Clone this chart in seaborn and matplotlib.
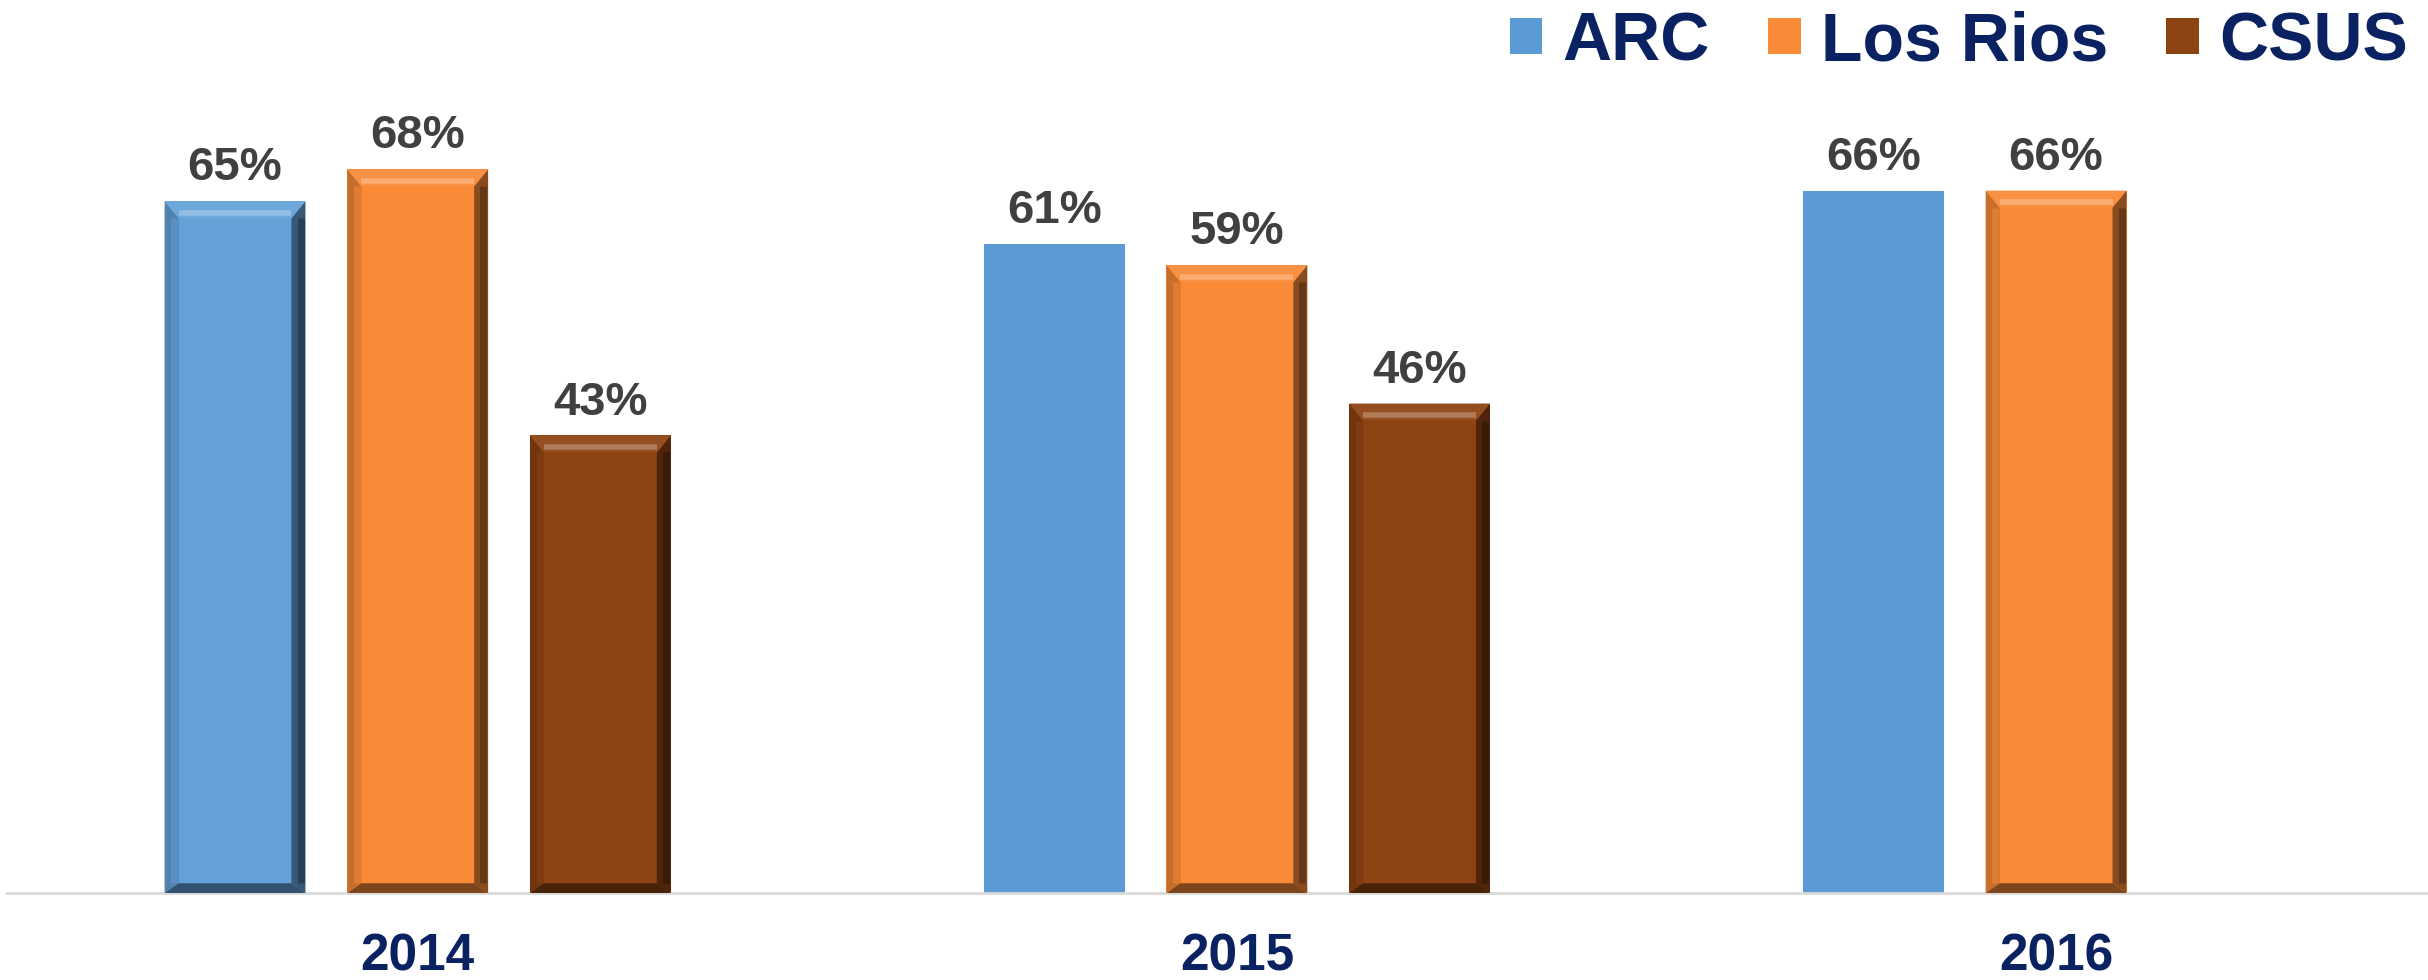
import pandas as pd
import numpy as np
import seaborn as sns
import matplotlib.pyplot as plt
from matplotlib.patches import Polygon, Patch
import matplotlib.colors as mcolors

# Data
years = ["2014", "2015", "2016"]
schools = ["ARC", "Los Rios", "CSUS"]
arc = [65, 61, 66]
los_rios = [68, 59, 66]
csus = [43, 46, None]

colors = {"ARC": "#5B9BD5", "Los Rios": "#F98A38", "CSUS": "#8E4312"}
navy = "#0B2262"

rows = []
for name, vals in zip(schools, [arc, los_rios, csus]):
    for yr, v in zip(years, vals):
        if v is not None:
            rows.append({"Year": yr, "School": name, "Value": v})
df = pd.DataFrame(rows)

sns.set_style("white")
plt.rcParams['font.family'] = ['Liberation Sans', 'DejaVu Sans']

fig = plt.figure(figsize=(24.28, 9.8), dpi=100)
ax = fig.add_axes([0.003, 0.0885, 0.997, 0.9115])

sns.barplot(data=df, x="Year", y="Value", hue="School", order=years, hue_order=schools,
            palette=colors, width=0.669, gap=0.229, saturation=1, ax=ax, legend=False,
            edgecolor="none", linewidth=0)

ax.set_xlim(-0.501, 2.454)
ax.set_ylim(0, 83.9)


def shade(c, f):
    # f > 0 lightens, f < 0 darkens
    r, g, b = mcolors.to_rgb(c)
    if f >= 0:
        return (r + (1 - r) * f, g + (1 - g) * f, b + (1 - b) * f)
    return (r * (1 + f), g * (1 + f), b * (1 + f))


# pixel -> data conversions for bevel size
px_x = (ax.get_xlim()[1] - ax.get_xlim()[0]) / (fig.bbox.width * 0.997)
px_y = (ax.get_ylim()[1] - ax.get_ylim()[0]) / (fig.bbox.height * 0.9115)

# Bevel on every bar except the flat ARC bars of 2015/2016, plus value labels
for container, name in zip(ax.containers, schools):
    for i, bar in enumerate(container):
        h = bar.get_height()
        if np.isnan(h) or h == 0:
            continue
        x0, w = bar.get_x(), bar.get_width()
        x1 = x0 + w
        ax.annotate(f"{int(h)}%", (x0 + w / 2, h), xytext=(0, 15), textcoords="offset points",
                    ha="center", va="baseline", fontsize=34, fontweight="bold", color="#404040")
        if name == "ARC" and i > 0:
            continue
        c = colors[name]
        if name == "ARC":
            c = shade(c, 0.06)
            bar.set_facecolor(c)
        bx, by_t, by_b = 14 * px_x, 17 * px_y, 10 * px_y
        top = [(x0, h), (x1, h), (x1 - bx, h - by_t), (x0 + bx, h - by_t)]
        bottom = [(x0, 0), (x1, 0), (x1 - bx, by_b), (x0 + bx, by_b)]
        left = [(x0, 0), (x0, h), (x0 + bx, h - by_t), (x0 + bx, by_b)]
        right = [(x1, 0), (x1, h), (x1 - bx, h - by_t), (x1 - bx, by_b)]
        for poly, f in [(left, -0.2), (right, -0.45), (bottom, -0.5), (top, 0.06)]:
            ax.add_patch(Polygon(poly, closed=True, facecolor=shade(c, f), edgecolor="none", zorder=3))
        # soft inner edges for a rounder look
        ax.plot([x0 + bx * 0.7, x0 + bx * 0.7], [by_b, h - by_t], color=shade(c, -0.1), lw=5, zorder=4, solid_capstyle="butt")
        ax.plot([x1 - bx * 0.35, x1 - bx * 0.35], [by_b, h - by_t], color=shade(c, -0.6), lw=5, zorder=4, solid_capstyle="butt")
        ax.plot([x0 + bx, x1 - bx], [h - by_t * 0.7] * 2, color=shade(c, 0.3), lw=4, zorder=4, solid_capstyle="butt")

# Axis styling
sns.despine(ax=ax, left=True, top=True, right=True)
ax.spines["bottom"].set_color("#D9D9D9")
ax.spines["bottom"].set_linewidth(2)
ax.set_yticks([])
ax.set_xlabel("")
ax.set_ylabel("")
ax.tick_params(axis="x", length=0, pad=28)
for lbl in ax.get_xticklabels():
    lbl.set_fontsize(37)
    lbl.set_fontweight("bold")
    lbl.set_color(navy)

# Legend at the top right
handles = [Patch(facecolor=colors[s], edgecolor="none", label=s) for s in schools]
leg = fig.legend(handles=handles, loc="upper right", bbox_to_anchor=(1.017, 1.052), ncol=3, frameon=False,
                 fontsize=49, handlelength=0.48, handleheight=0.42, handletextpad=0.3, columnspacing=0.85)
for t in leg.get_texts():
    t.set_color(navy)
    t.set_fontweight("bold")

fig.savefig("out.png", dpi=100)
